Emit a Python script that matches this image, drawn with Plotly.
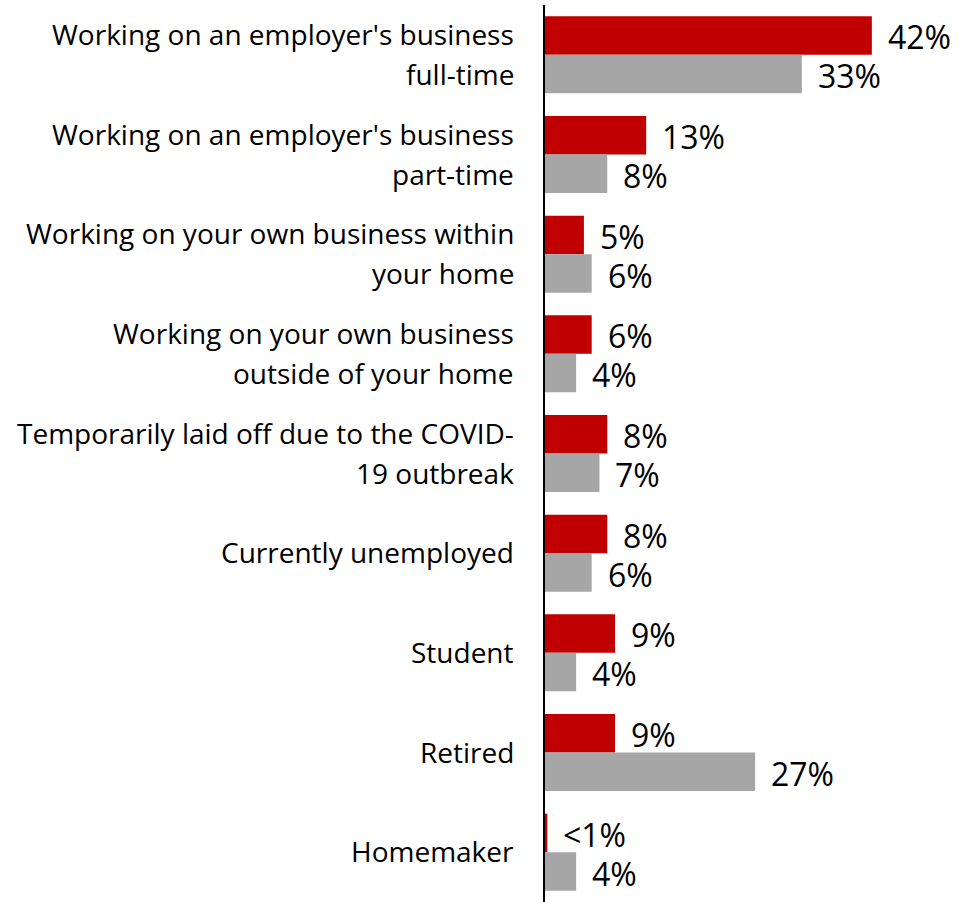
import plotly.graph_objects as go

# Employment status, two respondent groups (percent)
categories = [
    "Working on an employer's business<br>full-time",
    "Working on an employer's business<br>part-time",
    "Working on your own business within<br>your home",
    "Working on your own business<br>outside of your home",
    "Temporarily laid off due to the COVID-<br>19 outbreak",
    "Currently unemployed",
    "Student",
    "Retired",
    "Homemaker",
]
series_red = [42, 13, 5, 6, 8, 8, 9, 9, 0.3]
series_gray = [33, 8, 6, 4, 7, 6, 4, 27, 4]
labels_red = ["42%", "13%", "5%", "6%", "8%", "8%", "9%", "9%", "<1%"]
labels_gray = ["33%", "8%", "6%", "4%", "7%", "6%", "4%", "27%", "4%"]

RED = "#C00000"
GRAY = "#A6A6A6"
FONT = "Open Sans"

fig = go.Figure()
fig.add_trace(go.Bar(y=categories, x=series_red, orientation="h",
                     marker=dict(color=RED, line=dict(width=0)), name="A"))
fig.add_trace(go.Bar(y=categories, x=series_gray, orientation="h",
                     marker=dict(color=GRAY, line=dict(width=0)), name="B"))

annotations = []
# Category labels, one annotation per line so the line spacing can be set
for cat in categories:
    lines = cat.split("<br>")
    n = len(lines)
    for i, line in enumerate(lines):
        shift = (n - 1) * 20 - i * 40
        annotations.append(dict(
            x=0, xref="paper", y=cat, yref="y", text=line, showarrow=False,
            xanchor="right", yanchor="middle", xshift=-29, yshift=shift + 1,
            font=dict(family=FONT, size=28, color="#000000")))

# Value labels beside each bar
for cat, v, t in zip(categories, series_red, labels_red):
    annotations.append(dict(
        x=v, y=cat, text=t, showarrow=False, xanchor="left", yanchor="middle",
        xshift=14, yshift=18, font=dict(family=FONT, size=32, color="#000000")))
for cat, v, t in zip(categories, series_gray, labels_gray):
    annotations.append(dict(
        x=v, y=cat, text=t, showarrow=False, xanchor="left", yanchor="middle",
        xshift=14, yshift=-21, font=dict(family=FONT, size=32, color="#000000")))

fig.update_layout(
    width=973, height=902,
    margin=dict(l=545, r=0, t=5, b=0),
    paper_bgcolor="white", plot_bgcolor="white",
    barmode="group", bargap=0.228, bargroupgap=0,
    showlegend=False,
    annotations=annotations,
    xaxis=dict(range=[0, 55], visible=False, fixedrange=True),
    yaxis=dict(categoryorder="array", categoryarray=categories,
               range=[8.5, -0.5], showticklabels=False, ticks="",
               showgrid=False, zeroline=False,
               showline=True, linecolor="#000000", linewidth=2),
)

fig.write_html("out.html")
